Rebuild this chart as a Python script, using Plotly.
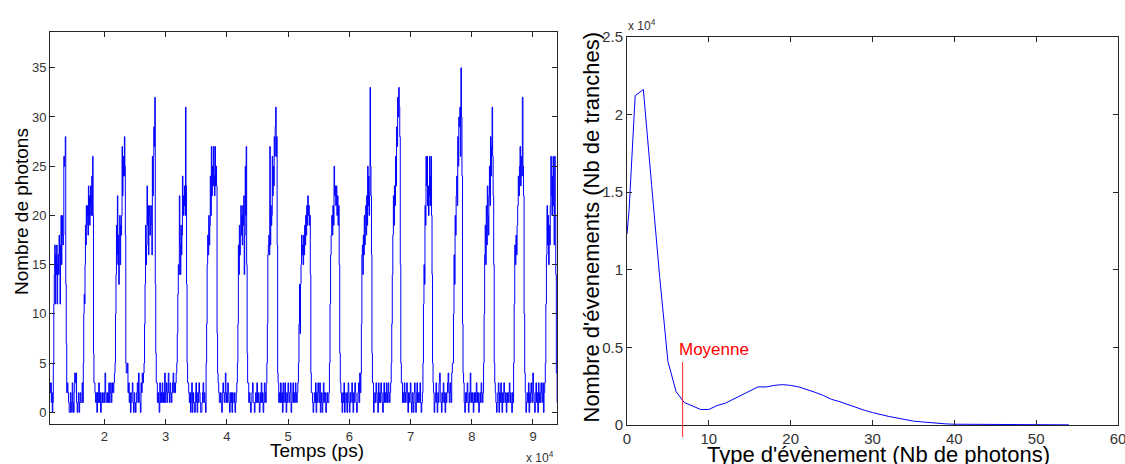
"""
Photon counting: time trace of photon counts and histogram of events.
"""

import numpy as np
import plotly.graph_objects as go

# ---- left panel: photon count per time slice (stairs) ----
T_FIRST_PS = 11100
T_LAST_PS = 94200

BURST_START_PS = [11670, 16570, 21750, 26490, 31830, 36620, 41730, 46540,
                  51700, 56760, 61900, 66850, 72030, 76930, 81930, 86830, 92010]
BURST_END_PS = [13860, 18370, 23660, 28560, 33680, 38580, 43480, 48380,
                53890, 58630, 63860, 68590, 73760, 78660, 83840, 88740, 93810]

BURST_COUNTS = [
    [5, 11, 14, 17, 11, 16, 14, 17, 11, 15, 16, 14, 18, 16, 11, 17, 20, 15, 18, 20, 17, 18, 26, 25, 26, 28, 13, 7],
    [5, 10, 12, 11, 15, 19, 17, 21, 19, 20, 21, 18, 23, 20, 22, 19, 21, 23, 20, 22, 24, 20, 26, 20, 6, 3],
    [5, 10, 14, 19, 16, 22, 15, 18, 13, 17, 20, 15, 19, 18, 20, 27, 22, 24, 26, 24, 28, 25, 18, 5, 4],
    [5, 9, 13, 19, 15, 17, 23, 19, 21, 16, 20, 21, 18, 20, 21, 19, 16, 26, 22, 26, 29, 27, 32, 13, 6, 3],
    [5, 8, 12, 15, 14, 22, 17, 14, 19, 16, 18, 24, 20, 22, 21, 23, 20, 31, 23, 13, 5, 3],
    [5, 9, 15, 18, 16, 20, 17, 19, 24, 20, 27, 22, 25, 23, 27, 24, 22, 27, 23, 25, 23, 8, 4],
    [5, 9, 17, 14, 19, 16, 18, 21, 18, 20, 17, 21, 19, 22, 14, 18, 25, 20, 27, 15, 6, 3],
    [5, 9, 16, 17, 18, 16, 27, 17, 21, 19, 20, 26, 22, 25, 23, 28, 26, 29, 31, 26, 28, 17, 4],
    [5, 9, 13, 8, 13, 15, 18, 16, 17, 15, 18, 16, 19, 17, 20, 18, 21, 19, 22, 20, 21, 19, 20, 14, 4, 2],
    [5, 11, 16, 18, 20, 18, 21, 19, 25, 22, 23, 21, 23, 20, 22, 19, 21, 15, 6, 3],
    [4, 9, 16, 17, 14, 18, 16, 20, 17, 19, 21, 18, 22, 19, 25, 21, 24, 20, 22, 33, 25, 22, 16, 6, 3],
    [5, 9, 14, 18, 22, 19, 23, 21, 26, 23, 29, 27, 32, 30, 33, 31, 28, 15, 5, 3],
    [5, 11, 15, 13, 21, 19, 26, 23, 26, 21, 23, 20, 22, 26, 21, 24, 26, 20, 14, 5, 3],
    [5, 10, 16, 13, 20, 18, 22, 24, 21, 28, 25, 30, 29, 31, 26, 35, 30, 24, 9, 4],
    [5, 10, 16, 19, 15, 21, 17, 23, 20, 18, 22, 25, 21, 28, 24, 27, 31, 26, 22, 15, 5, 3],
    [5, 11, 17, 15, 18, 16, 19, 21, 24, 22, 25, 27, 23, 26, 24, 32, 25, 22, 10, 4],
    [5, 11, 16, 21, 17, 20, 15, 19, 17, 21, 26, 22, 20, 24, 26, 21, 17, 26, 20, 14],
]

# background counts before, between and after the bursts
GAP_COUNTS = [
    [3, 2, 3, 1, 2, 0, 1],
    [2, 3, 2, 1, 0, 0, 2, 1, 0, 3, 1, 0, 2, 4, 3, 4, 1, 0, 1, 2, 0, 1, 2, 1, 1, 3, 1],
    [3, 2, 1, 2, 0, 2, 1, 3, 1, 2, 0, 1, 2, 1, 1, 2, 1, 4, 2, 1, 1, 2, 1, 3, 1, 2, 3, 1, 2, 3, 2, 3, 4],
    [4, 5, 2, 3, 1, 2, 0, 1, 2, 3, 1, 0, 2, 1, 0, 1, 2, 3, 1, 4, 2, 1, 0, 3, 2, 4, 3, 4],
    [3, 1, 2, 1, 0, 3, 1, 2, 1, 3, 1, 2, 1, 4, 1, 2, 3, 1, 2, 4, 2, 1, 3, 2, 1, 2, 3, 4, 2, 3, 2, 3, 4],
    [3, 2, 1, 2, 0, 1, 3, 0, 2, 1, 1, 0, 2, 3, 1, 0, 2, 1, 3, 2, 1, 0, 0, 1, 2, 3, 1, 2, 1, 0],
    [3, 2, 1, 1, 2, 1, 0, 2, 3, 2, 1, 2, 4, 1, 2, 1, 3, 2, 1, 0, 2, 1, 2, 0, 2, 1, 1, 2, 0, 1, 2, 3],
    [3, 1, 2, 1, 0, 1, 2, 3, 1, 1, 0, 1, 2, 1, 3, 1, 2, 1, 0, 2, 1, 3, 1, 2, 0, 1, 3, 2, 1, 3],
    [3, 1, 2, 1, 3, 1, 2, 0, 3, 1, 2, 3, 1, 0, 2, 1, 3, 2, 1, 2, 3, 0, 1, 2, 3, 1, 2, 1, 3, 2, 1, 2, 3],
    [2, 1, 0, 1, 2, 1, 3, 0, 2, 1, 3, 2, 1, 3, 0, 1, 2, 0, 1, 3, 2, 1, 2, 0, 1, 2, 1, 1, 2],
    [2, 1, 0, 2, 1, 3, 0, 1, 2, 1, 0, 2, 3, 1, 0, 2, 1, 2, 3, 1, 0, 2, 1, 3, 2, 1, 0, 1, 2, 3, 1, 4, 2],
    [3, 0, 1, 2, 1, 3, 2, 1, 0, 3, 1, 2, 1, 3, 2, 1, 0, 2, 3, 1, 2, 1, 3, 2, 1, 3, 2, 1, 2, 3],
    [3, 1, 2, 1, 3, 2, 1, 2, 3, 1, 0, 2, 1, 2, 3, 1, 0, 2, 1, 0, 2, 3, 1, 0, 2, 3, 1, 2, 1, 2, 3, 1, 0, 1, 2],
    [2, 0, 1, 2, 3, 1, 0, 2, 1, 3, 4, 2, 1, 0, 2, 1, 3, 2, 1, 0, 2, 1, 2, 3, 4, 2, 1, 3, 2, 1, 4, 5],
    [3, 1, 0, 2, 1, 2, 3, 1, 0, 2, 1, 4, 2, 1, 2, 1, 0, 2, 1, 2, 1, 3, 2, 1, 2, 0, 1, 2, 1, 3, 2, 1, 2],
    [2, 1, 0, 1, 2, 3, 0, 2, 1, 3, 1, 0, 2, 1, 3, 2, 1, 2, 0, 1, 2, 1, 2, 3, 1, 2, 1, 0, 2, 1],
    [2, 0, 1, 2, 1, 3, 0, 2, 1, 3, 2, 1, 4, 2, 1, 0, 2, 3, 1, 2, 0, 3, 1, 2, 1, 3, 2, 1, 3, 0, 2, 3],
    [4, 1, 1],
]

# ---- right panel: histogram of slices by photon number ----
NB_PHOTONS = [0, 0.25, 1, 2, 3, 4, 5, 6, 7, 8, 9, 10, 11, 12, 13, 14, 15, 16, 17, 18,
              19, 20, 21, 22, 23, 24, 25, 26, 27, 28, 29, 30, 31, 32, 33, 34, 35, 36,
              37, 38, 39, 40, 42, 44, 46, 48, 50, 52, 54]
NB_EVENTS = [12300, 13800, 21200, 21600, 15500, 9500, 4100, 2150, 1450, 1200, 1000, 1000,
             1250, 1400, 1650, 1900, 2200, 2450, 2450, 2550, 2600, 2550, 2450, 2300, 2100,
             1900, 1650, 1500, 1300, 1150, 950, 800, 650, 550, 450, 350, 250, 200, 150,
             100, 70, 50, 40, 30, 25, 20, 15, 10, 10]
MEAN_PHOTONS = 6.8

W, H = 1125, 464
FONT = "Liberation Sans, Arial, sans-serif"
AXIS_COLOR = "#262626"
TICK_COLOR = "#333333"


def px_x(px):
    return px / W


def px_y(py):
    return 1 - py / H


# assemble the time trace from gaps and bursts
times, counts = [], []
gap_bounds = [(T_FIRST_PS, BURST_START_PS[0])]
gap_bounds += [(BURST_END_PS[i], BURST_START_PS[i + 1]) for i in range(len(BURST_START_PS) - 1)]
gap_bounds += [(BURST_END_PS[-1], T_LAST_PS)]
for k, (a, b) in enumerate(gap_bounds):
    vals = GAP_COUNTS[k]
    times.extend(np.linspace(a, b, len(vals), endpoint=False))
    counts.extend(vals)
    if k < len(BURST_COUNTS):
        vals = BURST_COUNTS[k]
        times.extend(np.linspace(BURST_START_PS[k], BURST_END_PS[k], len(vals), endpoint=False))
        counts.extend(vals)

fig = go.Figure()

fig.add_trace(
    go.Scatter(
        x=times,
        y=counts,
        mode="lines",
        line={"color": "#0000ff", "width": 1, "shape": "hv"},
        xaxis="x",
        yaxis="y",
        showlegend=False,
    )
)

fig.add_trace(
    go.Scatter(
        x=NB_PHOTONS,
        y=NB_EVENTS,
        mode="lines",
        line={"color": "#0000ff", "width": 1},
        xaxis="x2",
        yaxis="y2",
        showlegend=False,
    )
)

axis_common = {
    "automargin": False,
    "showline": True,
    "linecolor": AXIS_COLOR,
    "linewidth": 1,
    "mirror": "ticks",
    "ticks": "inside",
    "ticklen": 5,
    "tickwidth": 1,
    "tickcolor": AXIS_COLOR,
    "showgrid": False,
    "zeroline": False,
    "ticklabeloverflow": "allow",
    "tickfont": {"family": FONT, "size": 13, "color": TICK_COLOR},
}
big_ticks = {"family": FONT, "size": 15, "color": TICK_COLOR}

fig.update_layout(
    template="none",
    width=W,
    height=H,
    margin={"l": 0, "r": 0, "t": 0, "b": 0, "pad": 0},
    plot_bgcolor="white",
    paper_bgcolor="white",
    font={"family": FONT},
    xaxis={
        **axis_common,
        "domain": [px_x(50), px_x(557)],
        "anchor": "y",
        "range": [11130, 93920],
        "tickvals": [20000, 30000, 40000, 50000, 60000, 70000, 80000, 90000],
        "ticktext": ["2", "3", "4", "5", "6", "7", "8", "9"],
    },
    yaxis={
        **axis_common,
        "domain": [px_y(424), px_y(31.7)],
        "anchor": "x",
        "range": [-1.18, 38.66],
        "tickvals": [0, 5, 10, 15, 20, 25, 30, 35],
    },
    xaxis2={
        **axis_common,
        "domain": [px_x(627), px_x(1118)],
        "anchor": "y2",
        "range": [0, 60],
        "tickvals": [0, 10, 20, 30, 40, 50, 60],
        "tickfont": big_ticks,
    },
    yaxis2={
        **axis_common,
        "domain": [px_y(425), px_y(36.7)],
        "anchor": "x2",
        "range": [0, 25000],
        "tickvals": [0, 5000, 10000, 15000, 20000, 25000],
        "ticktext": ["0", "0.5", "1", "1.5", "2", "2.5"],
        "tickfont": big_ticks,
    },
)

# mean marker line, drawn a bit past the bottom of the axes
fig.add_shape(
    type="line",
    xref="x2 domain",
    yref="y2 domain",
    x0=MEAN_PHOTONS / 60,
    x1=MEAN_PHOTONS / 60,
    y0=-0.031,
    y1=0.162,
    line={"color": "#ff2020", "width": 1},
)
fig.add_annotation(
    x=6.15, y=4100, xref="x2", yref="y2",
    text="Moyenne", showarrow=False,
    xanchor="left", yanchor="bottom",
    font={"family": FONT, "size": 17, "color": "#ff0000"},
)

titles = [
    ("Nombre de photons", 21, 212, -90, 19),
    ("Temps (ps)", 316.5, 450, 0, 19),
    ("Nombre d'évenements (Nb de tranches)", 591, 227.5, -90, 22),
    ("Type d'évènement (Nb de photons)", 878, 454, 0, 22),
]
for text, cx, cy, angle, size in titles:
    fig.add_annotation(
        x=px_x(cx), y=px_y(cy), xref="paper", yref="paper",
        text=text, showarrow=False, textangle=angle,
        xanchor="center", yanchor="middle",
        font={"family": FONT, "size": size, "color": "#000000"},
    )

# axis multipliers
fig.add_annotation(
    x=px_x(556), y=px_y(457), xref="paper", yref="paper",
    text="x 10<sup>4</sup>", showarrow=False, xanchor="right", yanchor="middle",
    font={"family": FONT, "size": 12, "color": TICK_COLOR},
)
fig.add_annotation(
    x=px_x(626), y=px_y(25), xref="paper", yref="paper",
    text="x 10<sup>4</sup>", showarrow=False, xanchor="left", yanchor="middle",
    font={"family": FONT, "size": 12, "color": TICK_COLOR},
)

# the page's default body margin would shift the fixed-size figure
fig.write_html(
    "out.html",
    config={"displayModeBar": False},
    post_script="document.body.style.margin = '0';",
)
